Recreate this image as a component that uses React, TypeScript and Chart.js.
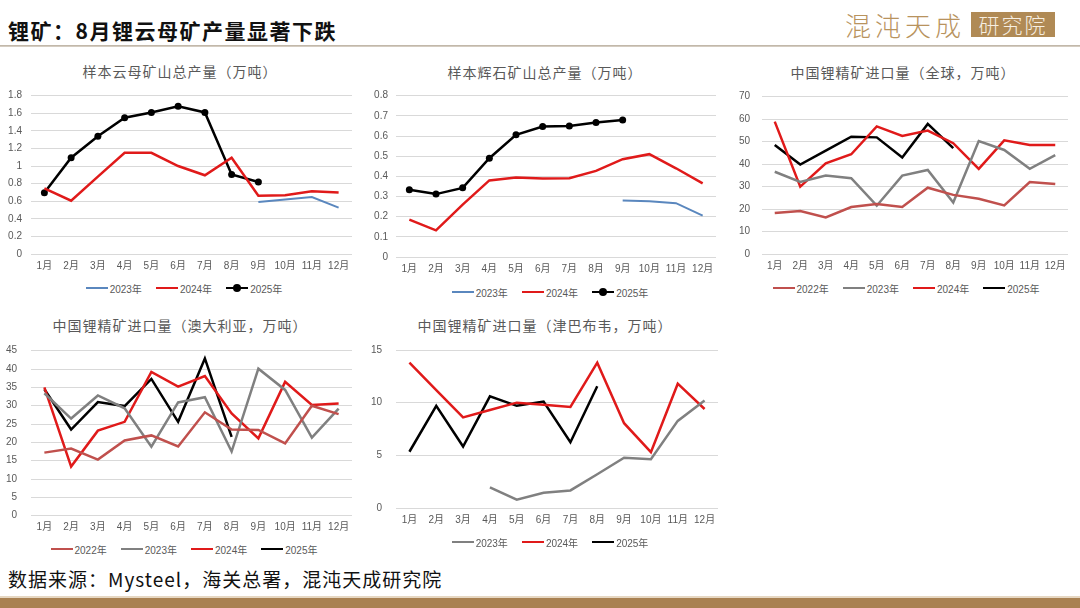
import React, { useEffect, useRef } from 'react';
import { Chart, registerables } from 'chart.js';
Chart.register(...registerables);

const MONTHS = ['1月', '2月', '3月', '4月', '5月', '6月', '7月', '8月', '9月', '10月', '11月', '12月'];

// 样本云母矿山总产量
const MICA_2023 = [null, null, null, null, null, null, null, null, 0.59, 0.62, 0.648, 0.527];
const MICA_2024 = [0.746, 0.606, 0.88, 1.15, 1.15, 1.0, 0.895, 1.095, 0.663, 0.667, 0.714, 0.70];
const MICA_2025 = [0.697, 1.095, 1.34, 1.55, 1.61, 1.68, 1.61, 0.905, 0.818, null, null, null];

// 样本辉石矿山总产量
const SPOD_2023 = [null, null, null, null, null, null, null, null, 0.28, 0.277, 0.267, 0.205];
const SPOD_2024 = [0.185, 0.132, 0.26, 0.38, 0.394, 0.389, 0.391, 0.427, 0.485, 0.51, 0.44, 0.365];
const SPOD_2025 = [0.333, 0.312, 0.343, 0.49, 0.606, 0.647, 0.65, 0.667, 0.68, null, null, null];

// 中国锂精矿进口量（全球）
const GLOBAL_2022 = [18.2, 19.1, 16.3, 20.9, 22.3, 20.9, 29.5, 26.3, 24.6, 21.6, 32.0, 31.1];
const GLOBAL_2023 = [36.6, 32.1, 34.9, 33.7, 21.5, 34.9, 37.4, 22.9, 50.3, 46.3, 37.9, 44.0];
const GLOBAL_2024 = [58.9, 30.0, 40.3, 44.4, 56.8, 52.5, 54.9, 49.3, 37.9, 50.6, 48.5, 48.5];
const GLOBAL_2025 = [48.5, 39.8, 46.0, 52.2, 51.9, 42.9, 57.9, 47.1, null, null, null, null];

// 中国锂精矿进口量（澳大利亚）
const AUS_2022 = [17.2, 18.3, 15.3, 20.5, 21.9, 18.9, 28.2, 23.5, 23.4, 19.7, 30.0, 27.7];
const AUS_2023 = [33.4, 26.5, 32.8, 29.3, 18.8, 30.9, 32.3, 17.5, 40.1, 34.3, 21.3, 29.2];
const AUS_2024 = [35.0, 13.4, 23.2, 25.6, 39.2, 35.2, 38.1, 27.9, 21.1, 36.5, 30.2, 30.6];
const AUS_2025 = [34.5, 23.5, 31.0, 29.9, 37.3, 25.6, 42.9, 21.5, null, null, null, null];

// 中国锂精矿进口量（津巴布韦）
const ZIM_2023 = [null, null, null, 1.96, 0.79, 1.45, 1.67, 3.2, 4.77, 4.64, 8.27, 10.2];
const ZIM_2024 = [13.8, 11.2, 8.6, 9.3, 10.0, 9.8, 9.6, 13.8, 8.05, 5.3, 11.8, 9.4];
const ZIM_2025 = [5.34, 9.7, 5.84, 10.6, 9.7, 10.1, 6.25, 11.56, null, null, null, null];

const C2022 = '#C0504D';
const C2023_BLUE = '#5A87BE';
const C2023_GRAY = '#808080';
const C2024 = '#E01A1A';
const C2025 = '#000000';

const TICK_FONT = { family: '"Liberation Sans", "Noto Sans CJK SC", sans-serif', size: 10 };
const TICK_COLOR = '#595959';

type Series = { label: string; data: (number | null)[]; color: string; width: number; dot?: boolean };

type PanelProps = {
  left: number; top: number; width: number; height: number;
  yWidth: number; yPad: number; padTop: number; padRight: number; xHeight: number;
  yMax: number; step: number; series: Series[];
  title: string; titleX: number; titleY: number;
  legendX: number; legendY: number;
};

function Panel(p: PanelProps) {
  const ref = useRef<HTMLCanvasElement | null>(null);
  useEffect(() => {
    if (!ref.current) return;
    const chart = new Chart(ref.current, {
      type: 'line',
      data: {
        labels: MONTHS,
        datasets: p.series.map((s) => ({
          label: s.label,
          data: s.data,
          borderColor: s.color,
          backgroundColor: s.color,
          borderWidth: s.width,
          pointRadius: s.dot ? 3.5 : 0,
          pointBackgroundColor: s.color,
          pointBorderWidth: 0,
          tension: 0,
          spanGaps: false,
          fill: false,
        })),
      },
      options: {
        animation: false,
        responsive: false,
        maintainAspectRatio: false,
        layout: { padding: { top: p.padTop, right: p.padRight, left: 0, bottom: 0 } },
        plugins: { legend: { display: false }, tooltip: { enabled: false }, title: { display: false } },
        scales: {
          x: {
            offset: true,
            grid: { display: false, drawTicks: false },
            border: { display: false },
            ticks: { color: TICK_COLOR, font: TICK_FONT, padding: 6, maxRotation: 0, autoSkip: false },
            afterFit: (s: any) => { s.height = p.xHeight; s.paddingLeft = 0; s.paddingRight = 0; },
          },
          y: {
            min: 0,
            max: p.yMax,
            grid: { color: '#D9D9D9', drawTicks: false, lineWidth: 1 },
            border: { display: false },
            ticks: {
              stepSize: p.step, color: TICK_COLOR, font: TICK_FONT, padding: p.yPad,
              callback: (v: any) => String(Math.round(Number(v) * 100) / 100),
            },
            afterFit: (s: any) => { s.width = p.yWidth; s.paddingTop = 0; s.paddingBottom = 0; },
          },
        },
      },
    });
    return () => chart.destroy();
  }, []);
  return (
    <>
      <div style={{ position: 'absolute', left: p.titleX - 200, top: p.titleY - 10, width: 400, height: 20, textAlign: 'center', fontSize: 14, lineHeight: '20px', color: '#595959', fontFamily: '"Noto Sans CJK SC", sans-serif', letterSpacing: 1 }}>{p.title}</div>
      <canvas ref={ref} width={p.width} height={p.height} style={{ position: 'absolute', left: p.left, top: p.top, width: p.width, height: p.height }} />
      <div style={{ position: 'absolute', left: p.legendX - 200, top: p.legendY - 8, width: 400, height: 16, display: 'flex', justifyContent: 'center', alignItems: 'center', gap: 14, fontSize: 10, color: '#595959', fontFamily: '"Liberation Sans", "Noto Sans CJK SC", sans-serif' }}>
        {p.series.map((s) => (
          <div key={s.label} style={{ display: 'flex', alignItems: 'center' }}>
            <div style={{ position: 'relative', width: 22, height: 8, marginRight: 2 }}>
              <div style={{ position: 'absolute', left: 0, right: 0, top: 4 - s.width / 2, height: s.width, background: s.color }} />
              {s.dot && <div style={{ position: 'absolute', left: 7, top: 0, width: 8, height: 8, borderRadius: 4, background: s.color }} />}
            </div>
            <span>{s.label}</span>
          </div>
        ))}
      </div>
    </>
  );
}

export default function App() {
  return (
    <div style={{ position: 'fixed', left: 0, top: 0, width: 1080, height: 608, background: '#ffffff', overflow: 'hidden' }}>
      {/* header */}
      <div style={{ position: 'absolute', left: 8, top: 15, height: 30, lineHeight: '30px', fontSize: 21, fontWeight: 700, color: '#111', fontFamily: '"Noto Sans CJK SC", sans-serif', letterSpacing: 1.5 }}>锂矿：8月锂云母矿产量显著下跌</div>
      <div style={{ position: 'absolute', left: 0, top: 45, width: 1080, height: 2, background: 'linear-gradient(to bottom, #B9AE9F, #DDD6CC)' }} />
      <div style={{ position: 'absolute', left: 845, top: 10, height: 30, lineHeight: '30px', fontSize: 26, fontWeight: 300, color: '#B8935E', fontFamily: '"Noto Sans CJK SC", sans-serif', letterSpacing: 4 }}>混沌天成</div>
      <div style={{ position: 'absolute', left: 971, top: 12, width: 84, height: 25, background: '#B08A55', color: '#F7EFE2', fontSize: 21, lineHeight: '25px', textAlign: 'center', fontWeight: 300, fontFamily: '"Noto Sans CJK SC", sans-serif', letterSpacing: 2 }}>研究院</div>

      <Panel left={0} top={88} width={356} height={185} yWidth={31} yPad={9} padTop={7.7} padRight={4} xHeight={19}
        yMax={1.8} step={0.2} title="样本云母矿山总产量（万吨）" titleX={180} titleY={71} legendX={184} legendY={288}
        series={[
          { label: '2023年', data: MICA_2023, color: C2023_BLUE, width: 2 },
          { label: '2024年', data: MICA_2024, color: C2024, width: 2.5 },
          { label: '2025年', data: MICA_2025, color: C2025, width: 2.5, dot: true },
        ]} />
      <Panel left={360} top={88} width={360} height={189} yWidth={36} yPad={8} padTop={7.7} padRight={1} xHeight={20}
        yMax={0.8} step={0.1} title="样本辉石矿山总产量（万吨）" titleX={545} titleY={72} legendX={550} legendY={292}
        series={[
          { label: '2023年', data: SPOD_2023, color: C2023_BLUE, width: 2 },
          { label: '2024年', data: SPOD_2024, color: C2024, width: 2.5 },
          { label: '2025年', data: SPOD_2025, color: C2025, width: 2.5, dot: true },
        ]} />
      <Panel left={720} top={88} width={360} height={185} yWidth={42} yPad={12} padTop={8.7} padRight={12} xHeight={19}
        yMax={70} step={10} title="中国锂精矿进口量（全球，万吨）" titleX={903} titleY={72} legendX={906} legendY={288}
        series={[
          { label: '2022年', data: GLOBAL_2022, color: C2022, width: 2.5 },
          { label: '2023年', data: GLOBAL_2023, color: C2023_GRAY, width: 2.5 },
          { label: '2024年', data: GLOBAL_2024, color: C2024, width: 2.5 },
          { label: '2025年', data: GLOBAL_2025, color: C2025, width: 2.5 },
        ]} />
      <Panel left={0} top={343} width={356} height={192} yWidth={31} yPad={14} padTop={7.7} padRight={4} xHeight={19.3}
        yMax={45} step={5} title="中国锂精矿进口量（澳大利亚，万吨）" titleX={180} titleY={325} legendX={184} legendY={549}
        series={[
          { label: '2022年', data: AUS_2022, color: C2022, width: 2.5 },
          { label: '2023年', data: AUS_2023, color: C2023_GRAY, width: 2.5 },
          { label: '2024年', data: AUS_2024, color: C2024, width: 2.5 },
          { label: '2025年', data: AUS_2025, color: C2025, width: 2.5 },
        ]} />
      <Panel left={360} top={343} width={360} height={184} yWidth={36} yPad={14} padTop={7} padRight={2} xHeight={19}
        yMax={15} step={5} title="中国锂精矿进口量（津巴布韦，万吨）" titleX={545} titleY={325} legendX={550} legendY={542}
        series={[
          { label: '2023年', data: ZIM_2023, color: C2023_GRAY, width: 2.5 },
          { label: '2024年', data: ZIM_2024, color: C2024, width: 2.5 },
          { label: '2025年', data: ZIM_2025, color: C2025, width: 2.5 },
        ]} />

      {/* footer */}
      <div style={{ position: 'absolute', left: 8, top: 566, height: 26, lineHeight: '26px', fontSize: 19, color: '#111', fontFamily: '"Noto Sans CJK SC", sans-serif', letterSpacing: 1 }}>数据来源：Mysteel，海关总署，混沌天成研究院</div>
      <div style={{ position: 'absolute', left: 0, top: 596, width: 1080, height: 2, background: '#E6D7C2' }} />
      <div style={{ position: 'absolute', left: 0, top: 598, width: 1080, height: 10, background: '#A98152' }} />
    </div>
  );
}
